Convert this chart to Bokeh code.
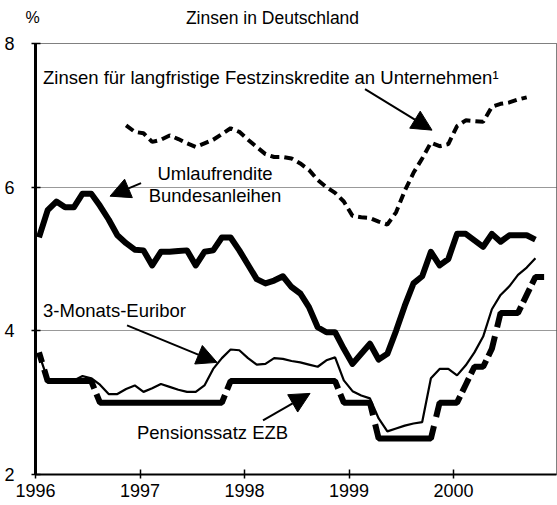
from bokeh.plotting import figure
from bokeh.models import Range1d, FixedTicker, Label, Arrow, NormalHead
from bokeh.layouts import column
from bokeh.embed import file_html
from bokeh.resources import INLINE

# ---- data (monthly, from Jan 1996) ----
start_year = 1996
umlauf = [5.30, 5.68, 5.80, 5.72, 5.72, 5.91, 5.91, 5.74, 5.55, 5.33, 5.22, 5.13,
          5.12, 4.91, 5.10, 5.10, 5.11, 5.12, 4.91, 5.10, 5.12, 5.30, 5.30, 5.12,
          4.92, 4.72, 4.66, 4.70, 4.76, 4.61, 4.52, 4.33, 4.05, 3.98, 3.98, 3.75,
          3.54, 3.68, 3.82, 3.60, 3.68, 4.00, 4.35, 4.66, 4.76, 5.10, 4.91, 5.00,
          5.35, 5.35, 5.26, 5.17, 5.35, 5.24, 5.33, 5.33, 5.33, 5.27]
festzins_start_month = 10
festzins = [6.86, 6.77,
            6.75, 6.63, 6.66, 6.72, 6.67, 6.61, 6.56, 6.61, 6.66, 6.74, 6.82, 6.77,
            6.66, 6.56, 6.46, 6.42, 6.42, 6.40, 6.33, 6.24, 6.10, 6.00, 5.92, 5.80,
            5.60, 5.58, 5.57, 5.52, 5.48, 5.65, 5.95, 6.20, 6.40, 6.62, 6.57, 6.60,
            6.85, 6.93, 6.92, 6.91, 7.12, 7.16, 7.18, 7.22, 7.25]
euribor = [3.68, 3.32, 3.31, 3.31, 3.31, 3.37, 3.34, 3.25, 3.12, 3.12, 3.19, 3.24,
           3.15, 3.20, 3.26, 3.22, 3.18, 3.15, 3.15, 3.24, 3.47, 3.62, 3.74, 3.73,
           3.62, 3.53, 3.54, 3.62, 3.61, 3.58, 3.56, 3.53, 3.50, 3.59, 3.63, 3.31,
           3.16, 3.10, 3.06, 2.78, 2.60, 2.64, 2.68, 2.71, 2.73, 3.34, 3.47, 3.47,
           3.38, 3.52, 3.70, 3.92, 4.30, 4.50, 4.62, 4.78, 4.88, 5.01]
ezb = [3.70, 3.30, 3.30, 3.30, 3.30, 3.30, 3.30, 3.00, 3.00, 3.00, 3.00, 3.00,
       3.00, 3.00, 3.00, 3.00, 3.00, 3.00, 3.00, 3.00, 3.00, 3.00, 3.30, 3.30,
       3.30, 3.30, 3.30, 3.30, 3.30, 3.30, 3.30, 3.30, 3.30, 3.30, 3.30, 3.00,
       3.00, 3.00, 3.00, 2.50, 2.50, 2.50, 2.50, 2.50, 2.50, 2.50, 3.00, 3.00,
       3.00, 3.25, 3.50, 3.50, 3.75, 4.25, 4.25, 4.25, 4.50, 4.75, 4.75]
x_ticks = [1996, 1997, 1998, 1999, 2000]
y_ticks = [2, 4, 6, 8]

def months(n, offset=0):
    return [start_year + (offset + i + 0.4) / 12 for i in range(n)]

FONT = "Liberation Sans"
W, TOP_H, MAIN_H = 557, 33, 472

# ---- header strip with "%" and title ----
top = figure(width=W, height=TOP_H, output_backend="svg", toolbar_location=None,
             x_range=Range1d(0, W), y_range=Range1d(0, TOP_H), min_border=0,
             x_axis_location=None, y_axis_location=None)
top.frame_align = False
top.grid.visible = False
top.outline_line_color = None
top.title.visible = False
top.add_layout(Label(x=32, y=TOP_H - 17, text="%", text_font=FONT, text_font_size="16px",
                     text_color="black", text_align="center", text_baseline="middle"))
top.add_layout(Label(x=272, y=TOP_H - 17, text="Zinsen in Deutschland", text_font=FONT,
                     text_font_size="17.5px", text_color="black", text_align="center",
                     text_baseline="middle"))

# ---- main chart ----
p = figure(width=W, height=MAIN_H, output_backend="svg", toolbar_location=None,
           x_range=Range1d(1996, 2000.985), y_range=Range1d(2, 8),
           min_border_left=35, min_border_right=1, min_border_top=10, min_border_bottom=31)
p.frame_align = False
p.background_fill_color = "white"
p.border_fill_color = "white"
p.outline_line_color = "black"
p.outline_line_dash = "1 1"
p.outline_line_width = 1

p.xgrid.visible = False
p.ygrid.grid_line_color = "black"
p.ygrid.grid_line_dash = "1 1"
p.ygrid.grid_line_alpha = 0.8
p.ygrid.grid_line_width = 1

p.xaxis.ticker = FixedTicker(ticks=x_ticks)
p.yaxis.ticker = FixedTicker(ticks=y_ticks)
for ax in (p.xaxis[0], p.yaxis[0]):
    ax.axis_line_color = "black"
    ax.major_tick_line_color = "black"
    ax.major_tick_line_width = 1.5
    ax.minor_tick_line_color = None
    ax.major_label_text_font = FONT
    ax.major_label_text_font_size = "18px"
    ax.major_label_text_color = "black"
    ax.major_tick_in = 5
    ax.major_tick_out = 4
p.yaxis.axis_line_width = 3
p.xaxis.axis_line_width = 2
p.yaxis.major_label_standoff = 17
p.xaxis.major_label_standoff = 5

# EZB step line with small breaks at each rate change
nan = float("nan")
tx = months(len(ezb))
ezb_x, ezb_y = [], []
for i, v in enumerate(ezb):
    ezb_x.append(tx[i])
    ezb_y.append(v)
    if i + 1 < len(ezb) and ezb[i + 1] != v:
        dt, dv = tx[i + 1] - tx[i], ezb[i + 1] - v
        ezb_x += [tx[i] + 0.35 * dt, nan, tx[i] + 0.6 * dt]
        ezb_y += [v + 0.35 * dv, nan, v + 0.6 * dv]

p.line(ezb_x, ezb_y, line_color="black", line_width=6)
p.line(months(len(euribor)), euribor, line_color="black", line_width=2.2)
p.line(months(len(umlauf)), umlauf, line_color="black", line_width=6, line_join="round")
p.line(months(len(festzins), festzins_start_month), festzins, line_color="black",
       line_width=4, line_dash="9 5")

def lab(x, y, text, size="18.5px", align="left"):
    p.add_layout(Label(x=x, y=y, text=text, text_font=FONT, text_font_size=size,
                       text_color="black", text_align=align, text_baseline="middle"))

lab(1996.072, 7.53, "Zinsen für langfristige Festzinskredite an Unternehmen¹")
lab(1997.718, 6.195, "Umlaufrendite", align="center")
lab(1997.718, 5.89, "Bundesanleihen", align="center")
lab(1996.072, 4.29, "3-Monats-Euribor")
lab(1996.971, 2.585, "Pensionssatz EZB")

def arrow(x0, y0, x1, y1):
    p.add_layout(Arrow(end=NormalHead(size=20, fill_color="black", line_color="black"),
                       x_start=x0, y_start=y0, x_end=x1, y_end=y1,
                       line_color="black", line_width=2))

arrow(1999.153, 7.366, 1999.794, 6.794)
arrow(1997.01, 6.056, 1996.713, 5.875)
arrow(1996.876, 4.077, 1997.737, 3.561)
arrow(1998.177, 2.753, 1998.627, 3.129)

layout = column(top, p, spacing=0)
open("out.html", "w").write(file_html(layout, INLINE))
